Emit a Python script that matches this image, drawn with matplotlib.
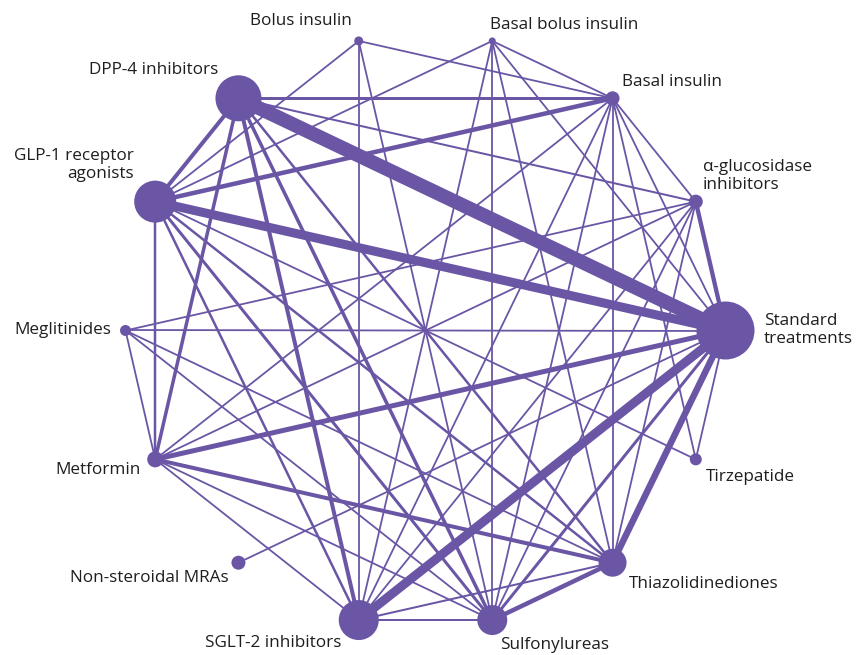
"""
Network plot of treatment comparisons for type 2 diabetes drugs.
"""
import numpy as np
import matplotlib.pyplot as plt
from matplotlib.patches import Circle

plt.rcParams['font.family'] = ['Open Sans', 'DejaVu Sans']

# Nodes, in order round the circle (anticlockwise from the right)
nodes = ["Standard treatments", "α-glucosidase inhibitors", "Basal insulin",
         "Basal bolus insulin", "Bolus insulin", "DPP-4 inhibitors",
         "GLP-1 receptor agonists", "Meglitinides", "Metformin",
         "Non-steroidal MRAs", "SGLT-2 inhibitors", "Sulfonylureas",
         "Thiazolidinediones", "Tirzepatide"]
# node radius (px), roughly the number of trials
node_r = [29, 7, 7, 3.5, 4.5, 23, 21, 5.5, 8, 7, 20, 15, 14, 6]

# Direct comparisons: (node a, node b, line width in px)
edges = [(0, 1, 4.3), (0, 2, 1.8), (0, 3, 1.8), (0, 5, 14), (0, 6, 9),
         (0, 7, 1.8), (0, 8, 5), (0, 9, 1.8), (0, 10, 9), (0, 11, 3),
         (0, 12, 6.5), (0, 13, 1.8),
         (1, 2, 1.8), (1, 5, 2), (1, 7, 1.8), (1, 8, 1.8), (1, 10, 1.8),
         (1, 11, 1.8), (1, 12, 1.8),
         (2, 3, 1.8), (2, 4, 1.8), (2, 5, 3), (2, 6, 4.5), (2, 8, 1.8),
         (2, 10, 1.8), (2, 11, 1.8), (2, 12, 1.8), (2, 13, 1.8),
         (3, 6, 1.8), (3, 10, 1.8), (3, 11, 1.8), (3, 12, 1.8),
         (4, 6, 1.8), (4, 10, 1.8), (4, 11, 1.8),
         (5, 6, 4), (5, 8, 3.5), (5, 10, 4), (5, 11, 3.5), (5, 12, 2.5),
         (6, 8, 2.5), (6, 10, 2.5), (6, 11, 3), (6, 12, 2.5), (6, 13, 1.8),
         (7, 8, 1.8), (7, 11, 1.8), (7, 12, 1.8),
         (8, 10, 1.8), (8, 11, 1.8), (8, 12, 4),
         (10, 11, 2), (10, 12, 2),
         (11, 12, 4.5)]

purple = '#6a56a5'

W, H = 857, 655
fig = plt.figure(figsize=(W / 100, H / 100), dpi=100)
ax = fig.add_axes([0, 0, 1, 1])
ax.set_xlim(0, W)
ax.set_ylim(H, 0)
ax.axis('off')

cx, cy, rx, ry = 425.5, 330.5, 300, 297
ang = np.deg2rad(np.arange(len(nodes)) * 360 / len(nodes))
xs = cx + rx * np.cos(ang)
ys = cy - ry * np.sin(ang)

px = 0.72  # points per pixel at 100 dpi
for a, b, w in edges:
    ax.plot([xs[a], xs[b]], [ys[a], ys[b]], color=purple, lw=w * px,
            solid_capstyle='butt', zorder=1)

for x, y, r in zip(xs, ys, node_r):
    ax.add_patch(Circle((x, y), r, color=purple, lw=0, zorder=2))

# label placement (px): text, x, y, alignment
labels = [("Bolus insulin", 352, 21, 'right'),
          ("Basal bolus insulin", 490, 25, 'left'),
          ("Basal insulin", 622, 82, 'left'),
          ("α-glucosidase\ninhibitors", 703, 176, 'left'),
          ("Standard\ntreatments", 764, 330, 'left'),
          ("Tirzepatide", 706, 477, 'left'),
          ("Thiazolidinediones", 629, 584, 'left'),
          ("Sulfonylureas", 500, 645, 'left'),
          ("SGLT-2 inhibitors", 341, 643, 'right'),
          ("Non-steroidal MRAs", 229, 578, 'right'),
          ("Metformin", 141, 470, 'right'),
          ("Meglitinides", 111, 330, 'right'),
          ("GLP-1 receptor\nagonists", 134, 165, 'right'),
          ("DPP-4 inhibitors", 218, 70, 'right')]
for txt, x, y, ha in labels:
    ax.text(x, y, txt, ha=ha, va='center', fontsize=12.3, color='#1e1e1e',
            linespacing=1.15)

plt.savefig("out.png", dpi=100)
